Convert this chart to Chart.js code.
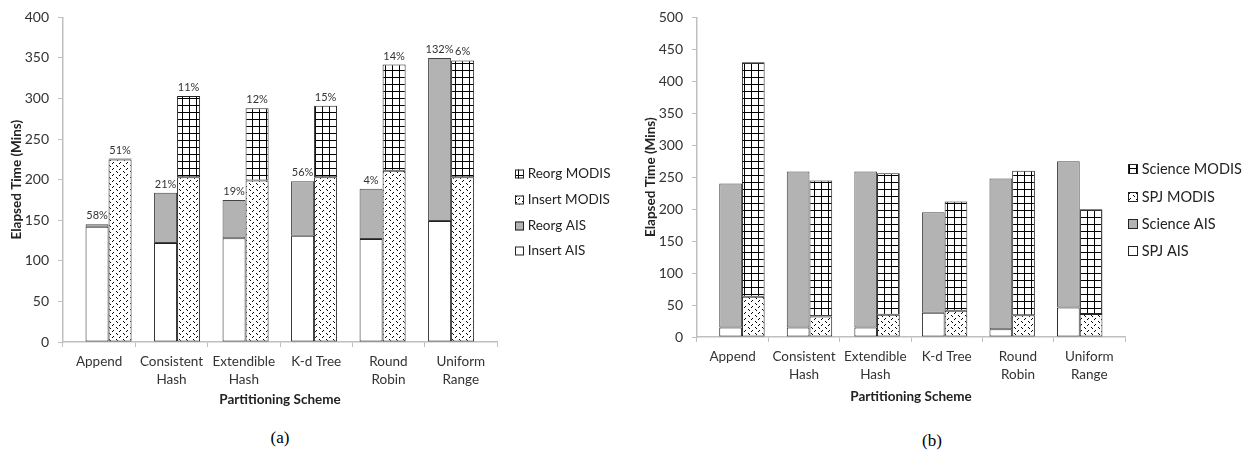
<!DOCTYPE html>
<html>
<head>
<meta charset="utf-8">
<script src="https://cdn.jsdelivr.net/npm/chart.js@4/dist/chart.umd.min.js"></script>
<style>
  body { margin: 0; background: #fff; }
  #wrap { position: relative; width: 1249px; height: 454px; overflow: hidden; }
  .box { position: absolute; top: 0; height: 420px; }
  .cap { position: absolute; width: 60px; text-align: center; font: 17px 'Liberation Serif', serif; color: #000; line-height: 20px; }
</style>
</head>
<body>
<div id="wrap">
  <div class="box" style="left:0; width:625px;"><canvas id="chart-a"></canvas></div>
  <div class="box" style="left:625px; width:624px;"><canvas id="chart-b"></canvas></div>
  <div class="cap" style="left:250px; top:428px;">(a)</div>
  <div class="cap" style="left:902px; top:431px;">(b)</div>
</div>
<script>
// categories
const schemes = [['Append'], ['Consistent', 'Hash'], ['Extendible', 'Hash'], ['K-d Tree'], ['Round', 'Robin'], ['Uniform', 'Range']];

// (a) ingest times, minutes
const insertAIS = [142, 122, 128, 131, 127, 149];
const reorgAIS = [3, 62, 47, 67, 62, 201];
const insertMODIS = [225, 203, 199, 203, 211, 203];
const reorgMODIS = [1, 100, 89, 88, 131, 144];
const pctAIS = ['58%', '21%', '19%', '56%', '4%', '132%'];
const pctMODIS = ['51%', '11%', '12%', '15%', '14%', '6%'];

// (b) query times, minutes
const spjAIS = [15, 15, 15, 38, 12, 46];
const scienceAIS = [225, 244, 244, 157, 236, 229];
const spjMODIS = [63, 32, 35, 41, 34, 36];
const scienceMODIS = [367, 213, 221, 171, 226, 164];

const ticksA = { max: 400, step: 50 };
const ticksB = { max: 500, step: 50 };

Chart.defaults.font.family = "Lato, 'DejaVu Sans', sans-serif";
Chart.defaults.color = '#333';

// --- fill patterns ---
function makePattern(w, h, draw) {
    const c = document.createElement('canvas');
    c.width = w; c.height = h;
    const g = c.getContext('2d');
    g.fillStyle = '#fff';
    g.fillRect(0, 0, w, h);
    g.fillStyle = '#000';
    draw(g);
    return g.createPattern(c, 'repeat');
}
const gridFill = makePattern(7, 7, g => { g.fillRect(0, 0, 7, 1); g.fillRect(0, 0, 1, 7); });
const dotFill = makePattern(7, 6, g => {
    g.fillRect(1, 0, 1, 1); g.fillRect(0, 1, 1, 1);
    g.fillRect(4, 3, 1, 1); g.fillRect(5, 4, 1, 1);
});
const GRAY = '#b3b3b3';

const toPoints = arr => arr.map((v, i) => ({ x: i, y: v }));

// legend drawn to the right of the plot area
const sideLegend = {
    id: 'sideLegend',
    afterDraw(chart, args, opts) {
        const { ctx, chartArea } = chart;
        const sets = chart.data.datasets.slice().reverse();
        const midY = (chartArea.top + chartArea.bottom) / 2 + opts.dy;
        const y0 = midY - (sets.length - 1) * opts.spacing / 2;
        const x = chartArea.right + opts.dx;
        ctx.save();
        ctx.font = opts.size + 'px ' + Chart.defaults.font.family;
        ctx.textBaseline = 'middle';
        sets.forEach((ds, i) => {
            const y = Math.round(y0 + i * opts.spacing);
            const s = opts.box;
            ctx.fillStyle = ds.backgroundColor;
            ctx.fillRect(x, y - s / 2, s, s);
            ctx.strokeStyle = '#222';
            ctx.lineWidth = 1;
            ctx.strokeRect(x + 0.5, y - s / 2 + 0.5, s - 1, s - 1);
            ctx.fillStyle = '#222';
            ctx.fillText(ds.label, x + opts.textGap, y);
        });
        ctx.restore();
    }
};

// percentages above each stack in (a)
const stackLabels = {
    id: 'stackLabels',
    afterDatasetsDraw(chart, args, opts) {
        if (!opts.show) return;
        const { ctx } = chart;
        ctx.save();
        ctx.font = '11px ' + Chart.defaults.font.family;
        ctx.fillStyle = '#333';
        ctx.textAlign = 'center';
        ctx.textBaseline = 'bottom';
        [[1, pctAIS], [3, pctMODIS]].forEach(([idx, texts]) => {
            chart.getDatasetMeta(idx).data.forEach((bar, i) => {
                ctx.fillText(texts[i], bar.x, bar.y - 3);
            });
        });
        ctx.restore();
    }
};

function buildChart(id, cfg) {
    const datasets = cfg.series.map(s => ({
        label: s.label,
        data: toPoints(s.data),
        stack: s.stack,
        xAxisID: 'xb',
        backgroundColor: s.fill,
        borderColor: s.border,
        borderWidth: 1,
        borderSkipped: false,
        barPercentage: 1,
        categoryPercentage: 0.672
    }));
    return new Chart(document.getElementById(id), {
        type: 'bar',
        data: { labels: schemes, datasets },
        plugins: [sideLegend, stackLabels],
        options: {
            responsive: true,
            maintainAspectRatio: false,
            animation: false,
            layout: { autoPadding: false, padding: cfg.padding },
            plugins: {
                legend: { display: false },
                tooltip: { enabled: false },
                sideLegend: cfg.legend,
                stackLabels: { show: cfg.pct }
            },
            scales: {
                x: {
                    type: 'category',
                    offset: true,
                    afterFit: s => { s.height = cfg.xHeight; },
                    grid: { display: true, offset: true, drawOnChartArea: false, tickLength: 5, color: '#bfbfbf' },
                    border: { color: '#bfbfbf', width: 1.5 },
                    ticks: { font: { size: 13.5, lineHeight: 1.3 }, padding: 6, maxRotation: 0, autoSkip: false, color: '#333' },
                    title: { display: true, text: 'Partitioning Scheme', font: { size: 13.5, weight: 'bold' }, color: '#222', padding: { top: 0, bottom: cfg.xTitlePad } }
                },
                // bar positions: the bar groups sit on a slightly tighter pitch than the labels
                xb: {
                    type: 'linear',
                    axis: 'x',
                    position: 'bottom',
                    display: false,
                    offset: false,
                    grid: { offset: false },
                    stacked: true,
                    min: -0.665,
                    max: 5.67,
                    afterBuildTicks: s => { s.ticks = schemes.map((_, i) => ({ value: i })); }
                },
                y: {
                    stacked: true,
                    min: 0,
                    max: cfg.ticks.max,
                    afterFit: s => { s.width = cfg.yWidth; },
                    grid: { display: true, drawOnChartArea: false, tickLength: 5, color: '#bfbfbf' },
                    border: { color: '#bfbfbf', width: 1.5 },
                    ticks: { stepSize: cfg.ticks.step, font: { size: 14 }, padding: 9, color: '#333' },
                    title: { display: true, text: 'Elapsed Time (Mins)', font: { size: 13.5, weight: 'bold' }, color: '#222', padding: { top: cfg.yTitlePad, bottom: 0 } }
                }
            }
        }
    });
}

buildChart('chart-a', {
    series: [
        { label: 'Insert AIS', data: insertAIS, stack: 'AIS', fill: '#fff', border: '#222' },
        { label: 'Reorg AIS', data: reorgAIS, stack: 'AIS', fill: GRAY, border: '#444' },
        { label: 'Insert MODIS', data: insertMODIS, stack: 'MODIS', fill: dotFill, border: '#222' },
        { label: 'Reorg MODIS', data: reorgMODIS, stack: 'MODIS', fill: gridFill, border: '#222' }
    ],
    ticks: ticksA,
    padding: { top: 9, right: 128, bottom: 0, left: 0 },
    yWidth: 63,
    xHeight: 78,
    xTitlePad: 12,
    yTitlePad: 9,
    pct: true,
    legend: { dx: 18, dy: 33, spacing: 25.6, size: 13.5, box: 9, textGap: 12.7 }
});

buildChart('chart-b', {
    series: [
        { label: 'SPJ AIS', data: spjAIS, stack: 'AIS', fill: '#fff', border: '#222' },
        { label: 'Science AIS', data: scienceAIS, stack: 'AIS', fill: GRAY, border: '#444' },
        { label: 'SPJ MODIS', data: spjMODIS, stack: 'MODIS', fill: dotFill, border: '#222' },
        { label: 'Science MODIS', data: scienceMODIS, stack: 'MODIS', fill: gridFill, border: '#222' }
    ],
    ticks: ticksB,
    padding: { top: 2, right: 124, bottom: 0, left: 0 },
    yWidth: 72,
    xHeight: 83,
    xTitlePad: 15.3,
    yTitlePad: 17.5,
    pct: false,
    legend: { dx: 3, dy: 33, spacing: 27.2, size: 14.5, box: 10, textGap: 13.7 }
});
</script>
</body>
</html>
